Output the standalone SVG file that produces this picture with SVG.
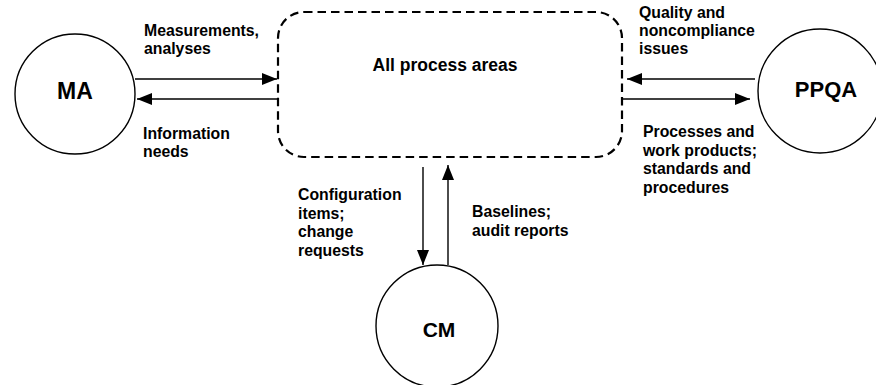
<svg xmlns="http://www.w3.org/2000/svg" width="876" height="385" viewBox="0 0 876 385">
<defs>
<marker id="ah" markerUnits="userSpaceOnUse" markerWidth="16" markerHeight="14" refX="15" refY="6" orient="auto">
<path d="M0,0 L15,6 L0,12 Z" fill="#000"/>
</marker>
<style>
.node{fill:#fff;stroke:#000;stroke-width:1.4}
.big{font-family:"Liberation Sans",Arial,sans-serif;font-weight:bold;fill:#000;text-anchor:middle}
.lbl{font-family:"Liberation Sans",Arial,sans-serif;font-weight:bold;font-size:15.8px;fill:#000}
.conn{stroke:#000;stroke-width:1.4;fill:none;marker-end:url(#ah)}
</style>
</defs>
<rect width="876" height="385" fill="#fff"/>
<g id="all-process-areas">
<rect x="278" y="12" width="344" height="145" rx="26" ry="26" fill="none" stroke="#000" stroke-width="2.2" stroke-dasharray="8.5,5"/>
<text class="big" x="445" y="71" font-size="17.5">All process areas</text>
</g>
<g id="MA">
<circle class="node" cx="75" cy="94" r="60"/>
<text class="big" x="75" y="99" font-size="23">MA</text>
</g>
<g id="PPQA">
<circle class="node" cx="820" cy="91" r="62"/>
<text class="big" x="826" y="97" font-size="22">PPQA</text>
</g>
<g id="CM">
<circle class="node" cx="437" cy="326" r="61"/>
<text class="big" x="439" y="337" font-size="21">CM</text>
</g>
<g id="connectors">
<line class="conn" x1="135" y1="79" x2="277" y2="79"/>
<line class="conn" x1="277" y1="99" x2="137" y2="99"/>
<line class="conn" x1="755" y1="79" x2="627" y2="79"/>
<line class="conn" x1="622" y1="99" x2="750" y2="99"/>
<line class="conn" x1="423" y1="167" x2="423" y2="265"/>
<line class="conn" x1="448" y1="265" x2="448" y2="165"/>
</g>
<g id="labels">
<text class="lbl" x="144" y="36">Measurements,</text>
<text class="lbl" x="144" y="54">analyses</text>
<text class="lbl" x="143" y="139">Information</text>
<text class="lbl" x="143" y="157">needs</text>
<text class="lbl" x="639" y="18">Quality and</text>
<text class="lbl" x="639" y="36">noncompliance</text>
<text class="lbl" x="639" y="54">issues</text>
<text class="lbl" x="643" y="137">Processes and</text>
<text class="lbl" x="643" y="155.5">work products;</text>
<text class="lbl" x="643" y="174">standards and</text>
<text class="lbl" x="643" y="192.5">procedures</text>
<text class="lbl" x="298" y="200">Configuration</text>
<text class="lbl" x="298" y="218.5">items;</text>
<text class="lbl" x="298" y="237">change</text>
<text class="lbl" x="298" y="255.5">requests</text>
<text class="lbl" x="472" y="217">Baselines;</text>
<text class="lbl" x="472" y="236">audit reports</text>
</g>
</svg>
